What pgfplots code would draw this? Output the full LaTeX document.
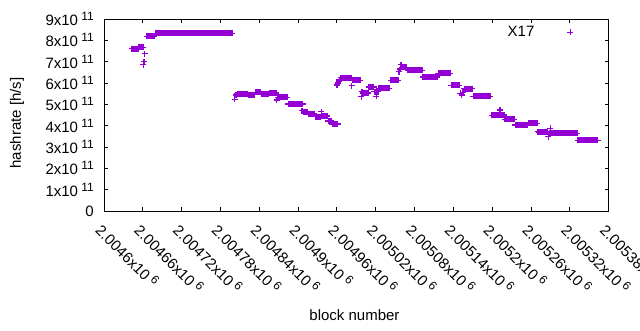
\documentclass[border=0pt]{standalone}
\usepackage{fontspec}
\setmainfont{Liberation Sans}
\usepackage{pgfplots}
\pgfplotsset{compat=1.18}
\definecolor{gpviolet}{HTML}{9400D3}
\newcommand{\sexp}[1]{\hspace{0.22em}\raisebox{5pt}{\fontsize{12}{12}\selectfont #1}}
\begin{document}
\fontsize{15}{18}\selectfont
\begin{tikzpicture}
\path[use as bounding box] (0,0) rectangle (640pt,330pt);
% x values are block numbers minus 2004600 (to keep TeX arithmetic exact)
\begin{axis}[
  at={(104pt,119pt)}, anchor=south west,
  width=504.6pt, height=192pt, scale only axis,
  xmin=0, xmax=780, ymin=0, ymax=9e11,
  xtick={0,60,120,180,240,300,360,420,480,540,600,660,720,780},
  xticklabels={2.0046x10\sexp{6},2.00466x10\sexp{6},2.00472x10\sexp{6},2.00478x10\sexp{6},2.00484x10\sexp{6},2.0049x10\sexp{6},2.00496x10\sexp{6},2.00502x10\sexp{6},2.00508x10\sexp{6},2.00514x10\sexp{6},2.0052x10\sexp{6},2.00526x10\sexp{6},2.00532x10\sexp{6},2.00538x10\sexp{6}},
  ytick={0,1e11,2e11,3e11,4e11,5e11,6e11,7e11,8e11,9e11},
  yticklabels={0,1x10\sexp{11},2x10\sexp{11},3x10\sexp{11},4x10\sexp{11},5x10\sexp{11},6x10\sexp{11},7x10\sexp{11},8x10\sexp{11},9x10\sexp{11}},
  scaled ticks=false,
  xticklabel style={rotate=-45, anchor=north west},
  xticklabel shift=4pt,
  yticklabel style={anchor=east, xshift=-5pt},
  axis line style={line width=0.8pt},
  every tick/.style={black, line width=0.8pt},
  major tick length=4pt,
  xlabel={block number},
  ylabel={hashrate [h/s]},
  xlabel style={at={(axis description cs:0.4964,-0.543)}, anchor=center},
  ylabel style={at={(axis description cs:-0.1724,0.458)}, anchor=center},
  legend plot pos=right,
  legend image code/.code={\path (0pt,0pt); \draw[#1, line width=0.8pt] plot coordinates {(33pt,0pt)};},
  legend style={draw=none, fill=none, inner sep=0pt, at={(axis description cs:0.930,0.932)}, anchor=east},
]
\addplot[only marks, mark=+, mark size=3pt, color=gpviolet, line width=1.4pt] table {
x y
43 7.61e11
45 7.61e11
47 7.61e11
49 7.61e11
51 7.61e11
53 7.61e11
54 7.67e11
56 7.67e11
58 7.67e11
60 7.67e11
61 6.86e11
62 7.00e11
63 7.37e11
66 8.19e11
68 8.19e11
70 8.19e11
72 8.19e11
74 8.19e11
76 8.19e11
78 8.19e11
80 8.33e11
82 8.33e11
84 8.33e11
86 8.33e11
88 8.33e11
90 8.33e11
92 8.33e11
94 8.33e11
96 8.33e11
98 8.33e11
100 8.33e11
102 8.33e11
104 8.33e11
106 8.33e11
108 8.33e11
110 8.33e11
112 8.33e11
114 8.33e11
116 8.33e11
118 8.33e11
120 8.33e11
122 8.33e11
124 8.33e11
126 8.33e11
128 8.33e11
130 8.33e11
132 8.33e11
134 8.33e11
136 8.33e11
138 8.33e11
140 8.33e11
142 8.33e11
144 8.33e11
146 8.33e11
148 8.33e11
150 8.33e11
152 8.33e11
154 8.33e11
156 8.33e11
158 8.33e11
160 8.33e11
162 8.33e11
164 8.33e11
166 8.33e11
168 8.33e11
170 8.33e11
172 8.33e11
174 8.33e11
176 8.33e11
178 8.33e11
180 8.33e11
182 8.33e11
184 8.33e11
186 8.33e11
188 8.33e11
190 8.33e11
192 8.33e11
194 8.33e11
196 8.33e11
198 8.33e11
202 5.24e11
204 5.44e11
206 5.50e11
208 5.50e11
210 5.50e11
212 5.50e11
214 5.50e11
216 5.50e11
218 5.50e11
220 5.50e11
222 5.50e11
224 5.45e11
226 5.45e11
228 5.45e11
230 5.45e11
232 5.45e11
234 5.56e11
236 5.56e11
238 5.56e11
240 5.56e11
242 5.56e11
244 5.50e11
246 5.50e11
248 5.50e11
250 5.50e11
252 5.50e11
254 5.50e11
256 5.53e11
258 5.53e11
260 5.53e11
262 5.53e11
264 5.53e11
266 5.53e11
267 5.20e11
269 5.33e11
271 5.33e11
273 5.33e11
275 5.33e11
277 5.33e11
279 5.33e11
281 5.33e11
283 5.33e11
285 5.02e11
287 5.02e11
289 5.02e11
291 5.02e11
293 5.02e11
295 5.02e11
297 5.02e11
299 5.02e11
301 5.02e11
303 5.02e11
305 5.02e11
307 5.02e11
306 4.70e11
309 4.66e11
311 4.66e11
313 4.66e11
315 4.66e11
317 4.55e11
319 4.55e11
321 4.55e11
323 4.55e11
325 4.55e11
327 4.42e11
329 4.42e11
331 4.42e11
333 4.42e11
335 4.42e11
336 4.66e11
337 4.45e11
339 4.45e11
341 4.45e11
343 4.45e11
345 4.45e11
347 4.22e11
349 4.22e11
351 4.22e11
353 4.08e11
355 4.08e11
357 4.08e11
359 4.08e11
361 4.08e11
360 5.91e11
362 6.00e11
363 6.06e11
364 6.14e11
366 6.25e11
368 6.25e11
370 6.25e11
372 6.25e11
374 6.25e11
376 6.25e11
378 6.25e11
380 6.25e11
382 6.25e11
383 5.88e11
384 6.13e11
386 6.13e11
388 6.13e11
390 6.13e11
392 6.13e11
394 6.13e11
396 6.13e11
398 5.36e11
399 5.59e11
400 5.53e11
402 5.53e11
404 5.53e11
406 5.53e11
408 5.53e11
409 5.82e11
411 5.82e11
413 5.82e11
415 5.82e11
417 5.82e11
418 5.60e11
420 5.60e11
422 5.60e11
424 5.60e11
421 5.38e11
425 5.75e11
427 5.75e11
429 5.75e11
431 5.75e11
433 5.75e11
435 5.75e11
437 5.75e11
439 5.75e11
441 5.75e11
443 6.13e11
445 6.13e11
447 6.13e11
449 6.13e11
451 6.13e11
453 6.13e11
455 6.13e11
456 6.53e11
458 6.66e11
459 6.86e11
460 6.74e11
462 6.74e11
464 6.74e11
466 6.74e11
468 6.74e11
470 6.59e11
472 6.59e11
474 6.59e11
476 6.59e11
478 6.59e11
480 6.59e11
482 6.59e11
484 6.59e11
486 6.59e11
488 6.59e11
490 6.59e11
492 6.59e11
493 6.28e11
495 6.28e11
497 6.28e11
499 6.28e11
501 6.28e11
503 6.28e11
505 6.28e11
507 6.28e11
509 6.28e11
511 6.28e11
513 6.28e11
515 6.28e11
517 6.45e11
519 6.45e11
521 6.45e11
523 6.45e11
525 6.45e11
527 6.45e11
529 6.45e11
531 6.45e11
533 6.45e11
535 6.45e11
537 5.89e11
539 5.89e11
541 5.89e11
543 5.89e11
545 5.89e11
547 5.89e11
549 5.89e11
551 5.52e11
553 5.44e11
555 5.56e11
557 5.74e11
559 5.74e11
561 5.74e11
563 5.74e11
565 5.74e11
567 5.74e11
569 5.74e11
571 5.37e11
573 5.37e11
575 5.37e11
577 5.37e11
579 5.37e11
581 5.37e11
583 5.37e11
585 5.37e11
587 5.37e11
589 5.37e11
591 5.37e11
593 5.37e11
595 5.37e11
597 5.37e11
599 4.49e11
601 4.49e11
603 4.49e11
605 4.49e11
607 4.49e11
609 4.49e11
611 4.49e11
612 4.73e11
613 4.50e11
615 4.50e11
617 4.50e11
619 4.50e11
620 4.29e11
622 4.29e11
624 4.29e11
626 4.29e11
628 4.29e11
630 4.29e11
632 4.29e11
634 4.29e11
636 4.04e11
638 4.04e11
640 4.04e11
642 4.04e11
644 4.04e11
646 4.04e11
648 4.04e11
650 4.04e11
652 4.04e11
654 4.04e11
656 4.11e11
658 4.11e11
660 4.11e11
662 4.11e11
664 4.11e11
666 4.11e11
668 4.11e11
670 4.11e11
671 3.72e11
672 3.70e11
674 3.70e11
676 3.70e11
678 3.70e11
680 3.70e11
682 3.70e11
684 3.70e11
686 3.70e11
687 3.48e11
689 3.64e11
690 3.88e11
691 3.64e11
693 3.64e11
695 3.64e11
697 3.64e11
699 3.64e11
701 3.64e11
703 3.64e11
705 3.64e11
707 3.64e11
709 3.64e11
711 3.64e11
713 3.64e11
715 3.64e11
717 3.64e11
719 3.64e11
721 3.64e11
723 3.64e11
725 3.64e11
727 3.64e11
729 3.64e11
731 3.64e11
733 3.31e11
735 3.31e11
737 3.31e11
739 3.31e11
741 3.31e11
743 3.31e11
745 3.31e11
747 3.31e11
749 3.31e11
751 3.31e11
753 3.31e11
755 3.31e11
757 3.31e11
759 3.31e11
761 3.31e11
763 3.31e11
};
\addlegendentry{X17}
\end{axis}
\end{tikzpicture}
\end{document}
